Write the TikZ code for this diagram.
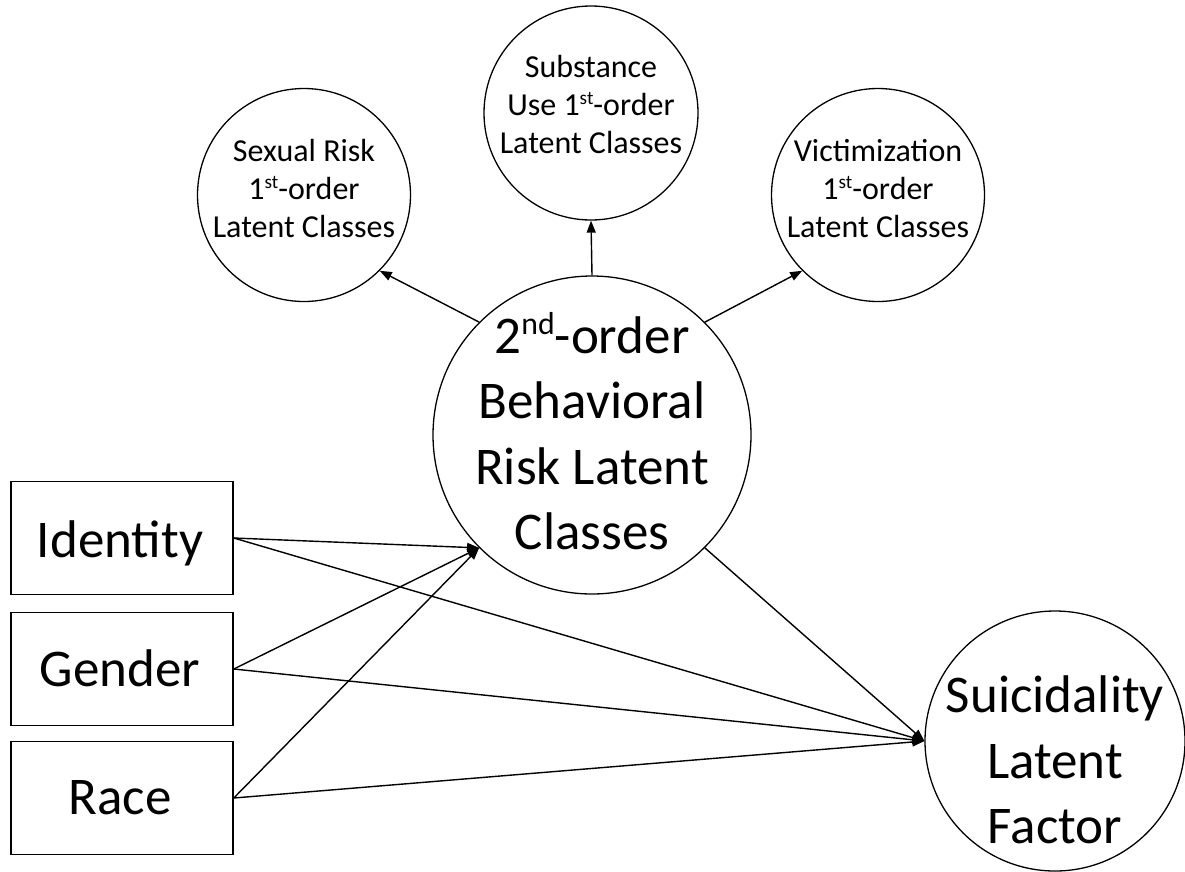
\documentclass[tikz,border=0pt]{standalone}
\usepackage{fontspec}
\usepackage{graphicx}
\setmainfont{Carlito}
\usetikzlibrary{arrows.meta}
\newcommand\supx[1]{\raisebox{0.36em}{\scalebox{0.6}{#1}}}
\begin{document}
\begin{tikzpicture}[x=1pt,y=-1pt,
  lat/.style={circle,draw,line width=1.3pt,inner sep=0pt},
  obs/.style={rectangle,draw,line width=1.6pt,minimum width=222pt,minimum height=113pt,inner sep=0pt},
  smalltxt/.style={align=center,font=\fontsize{32}{38}\selectfont,inner sep=0pt},
  bigtxt/.style={align=center,font=\fontsize{53}{65.5}\selectfont,inner sep=0pt},
  boxtxt/.style={font=\fontsize{53}{65}\selectfont,anchor=base,inner sep=0pt},
  conn/.style={line width=1.4pt,-{Triangle[length=12pt,width=9pt]}}
]
\useasboundingbox (0,0) rectangle (1185,871);
\fill[white] (0,0) rectangle (1185,871);
% latent circles
\node[lat,minimum size=213pt] (sex) at (304,195) {};
\node[lat,minimum size=214pt] (sub) at (591,113) {};
\node[lat,minimum size=213pt] (vic) at (878,195) {};
\node[lat,minimum size=318pt] (beh) at (592,435) {};
\node[lat,minimum size=260pt] (sui) at (1055,741) {};
% texts
\node[smalltxt] (sext) at (304,189) {Sexual Risk\\1\supx{st}-order\\Latent Classes};
\node[smalltxt] (subt) at (591,105) {Substance\\Use 1\supx{st}-order\\Latent Classes};
\node[smalltxt] (vict) at (878,189) {Victimization\\1\supx{st}-order\\Latent Classes};
\node[bigtxt] (beht) at (592,431) {2\supx{nd}-order\\Behavioral\\Risk Latent\\Classes};
\node[bigtxt] (suit) at (1055,760) {Suicidality\\Latent\\Factor};
% observed boxes
\node[obs] (ide) at (122,538) {};
\node[obs] (gen) at (122,669) {};
\node[obs] (rac) at (122,798) {};
\node[boxtxt] (idet) at (120,557) {Identity};
\node[boxtxt] (gent) at (120,686) {Gender};
\node[boxtxt] (ract) at (120,814) {Race};
% connectors
\draw[conn] (beh.135) -- (sex.-45);
\draw[conn] (beh.north) -- (sub.south);
\draw[conn] (beh.45) -- (vic.225);
\draw[conn] (ide.east) -- (beh.225);
\draw[conn] (gen.east) -- (beh.225);
\draw[conn] (rac.east) -- (beh.225);
\draw[conn] (ide.east) -- (sui.west);
\draw[conn] (gen.east) -- (sui.west);
\draw[conn] (rac.east) -- (sui.west);
\draw[conn] (beh.-45) -- (sui.west);
\end{tikzpicture}
\end{document}
